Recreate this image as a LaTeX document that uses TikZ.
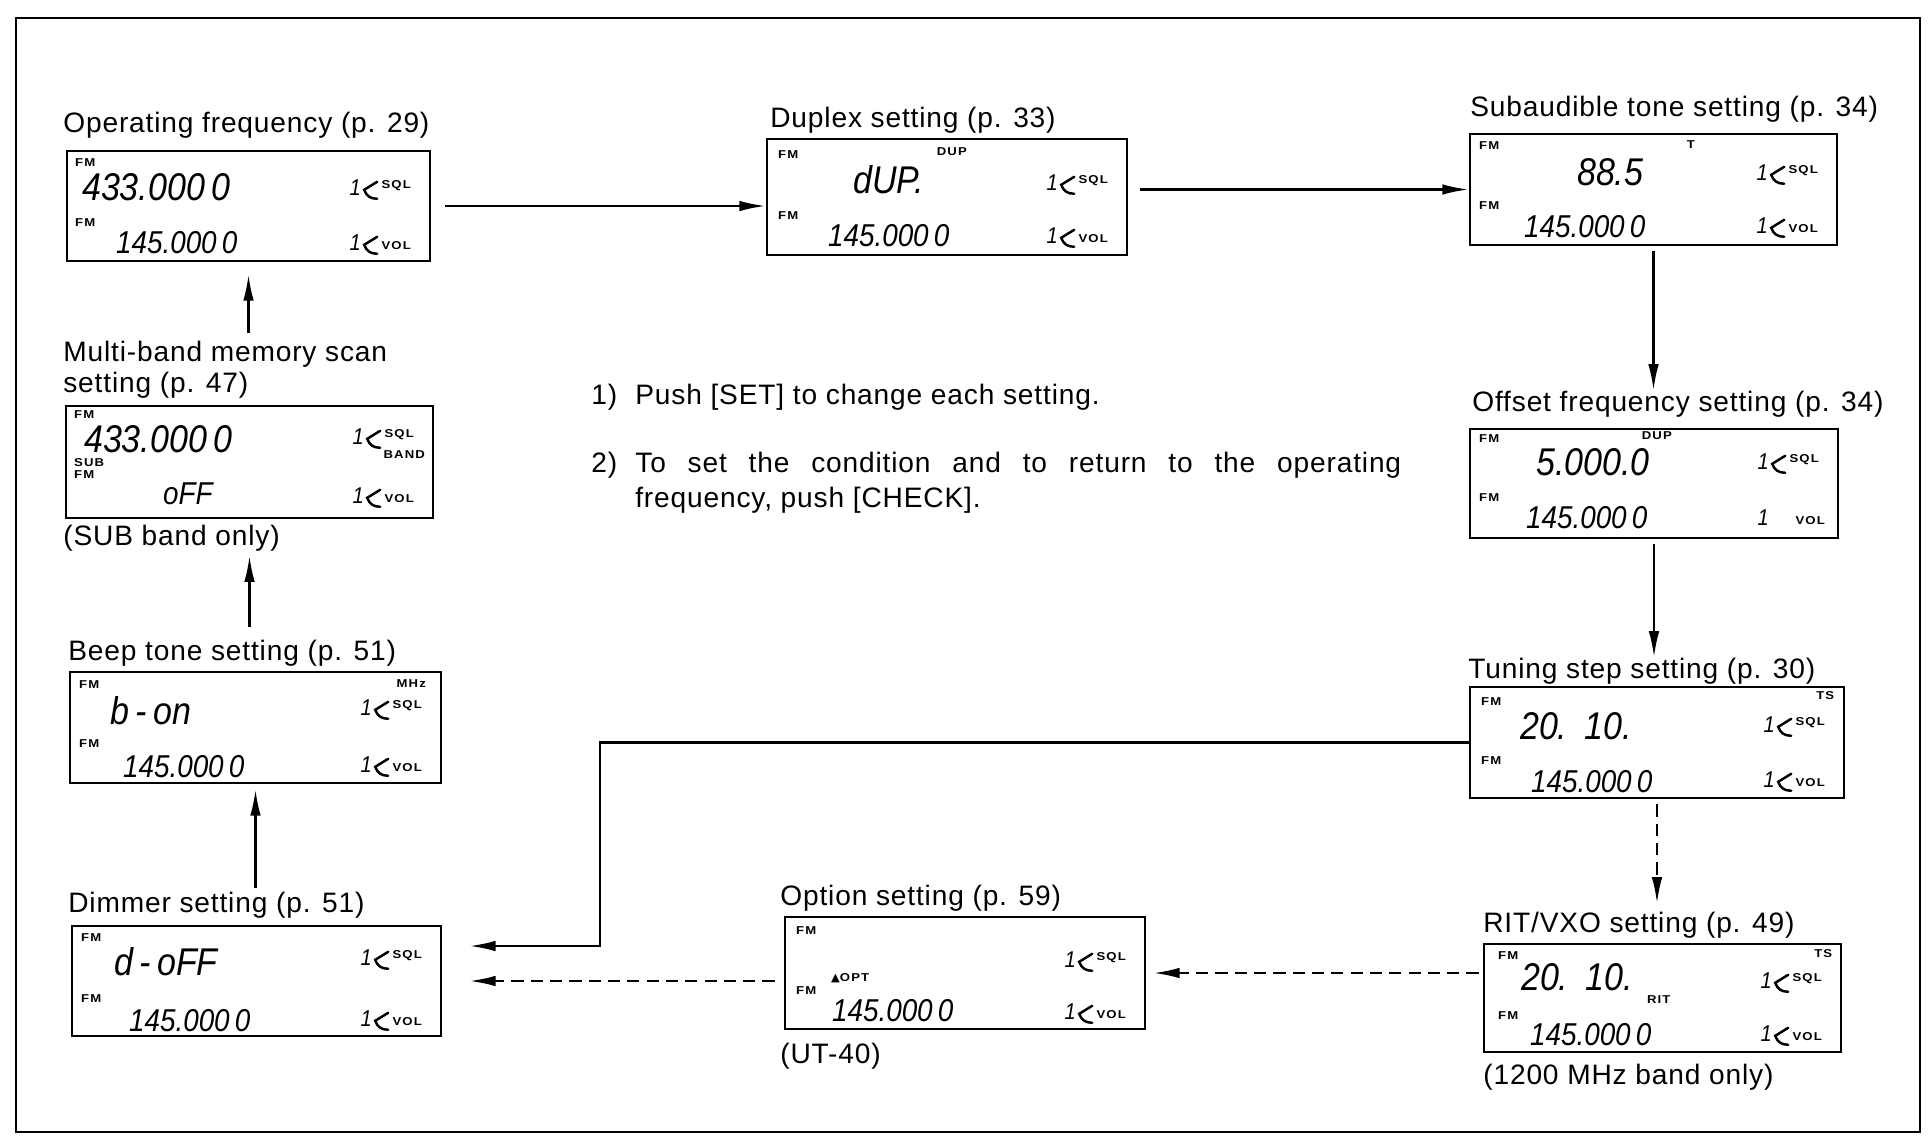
\documentclass[tikz,border=0pt]{standalone}
\usepackage{fontspec}
\setmainfont{Liberation Sans}[LetterSpace=3]
\newfontfamily\segfont{Liberation Sans}[FakeStretch=0.88]
\newfontfamily\tagfont{Liberation Sans}[FakeStretch=1.15,LetterSpace=10]
\newfontfamily\symfont{DejaVu Sans}
\usetikzlibrary{arrows.meta}

\tikzset{
  lcd/.style 2 args={draw, line width=1.4pt, inner sep=0pt,
    minimum width=#1*0.02cm, minimum height=#2*0.02cm},
  heading/.style={anchor=west, inner sep=0pt, font=\fontsize{16}{17.5}\selectfont},
  note/.style={anchor=base west, inner sep=0pt, font=\fontsize{16}{20}\selectfont},
  tag/.style={inner sep=0pt, font=\tagfont\bfseries\fontsize{6.5}{6.5}\selectfont},
  bigseg/.style={anchor=west, inner sep=0pt, font=\segfont\itshape\fontsize{22}{22}\selectfont},
  smallseg/.style={anchor=west, inner sep=0pt, font=\segfont\itshape\fontsize{18}{18}\selectfont},
  segone/.style={inner sep=0pt, font=\segfont\itshape\fontsize{13}{13}\selectfont},
  hook/.style={line width=1.4pt, line cap=round},
  conn/.style={line width=1.4pt, -{Latex[length=15pt,width=6pt]}},
  dashconn/.style={conn, dash pattern=on 7pt off 4pt},
}

% knob: segment digit 1, curved pointer, label
\newcommand\knob[4]{%
  \node[segone] (#1) at #2 {1};
  \draw[hook] ([shift={(22,-6)}]#1.center) -- ([shift={(9,2)}]#1.center)
    .. controls ([shift={(11,8)}]#1.center) and ([shift={(15,11)}]#1.center)
    .. ([shift={(22,11)}]#1.center);
  \node[tag, anchor=west] (#1-l) at ([shift={(26,#4)}]#1.center) {#3};
}

\begin{document}
\begin{tikzpicture}[x=0.02cm, y=-0.02cm]
        \useasboundingbox (0,0) rectangle (1931,1144);
        % ==== FRAME ====
        \draw[line width=1.2pt] (16,18) rectangle (1920,1132);

        % ==== DISPLAYS ====
        \node[lcd={363}{110}] (op) at (248.5,206) {};
        \node[lcd={360}{116}] (dup) at (947,197) {};
        \node[lcd={367}{111}] (tone) at (1653.5,189.5) {};
        \node[lcd={367}{112}] (scan) at (249.5,462) {};
        \node[lcd={368}{109}] (offs) at (1654,483.5) {};
        \node[lcd={371}{111}] (beep) at (255.5,727.5) {};
        \node[lcd={374}{111}] (step) at (1657,742.5) {};
        \node[lcd={369}{110}] (dim) at (256.5,981) {};
        \node[lcd={360}{112}] (opt) at (965,973) {};
        \node[lcd={357}{108}] (rit) at (1662.5,998) {};

        % ==== TITLES ====
        \node[heading] (op-t) at (63,125) {Operating frequency (p. 29)};
        \node[heading] (dup-t) at (770,120) {Duplex setting (p. 33)};
        \node[heading] (tone-t) at (1470,109) {Subaudible tone setting (p. 34)};
        \node[heading, align=left] (scan-t) at (63,370) {Multi-band memory scan\\setting (p. 47)};
        \node[heading] (scan-n) at (63,538) {(SUB band only)};
        \node[heading] (offs-t) at (1472,404) {Offset frequency setting (p. 34)};
        \node[heading] (beep-t) at (68,653) {Beep tone setting (p. 51)};
        \node[heading] (step-t) at (1468,671) {Tuning step setting (p. 30)};
        \node[heading] (dim-t) at (68,905) {Dimmer setting (p. 51)};
        \node[heading] (opt-t) at (780,898) {Option setting (p. 59)};
        \node[heading] (opt-n) at (780,1056) {(UT-40)};
        \node[heading] (rit-t) at (1483,925) {RIT/VXO setting (p. 49)};
        \node[heading] (rit-n) at (1483,1077) {(1200 MHz band only)};

        % ==== NOTES ====
        \node[note] (n1) at (591,404) {1)};
        \node[note] (n1-t) at (635,404) {Push [SET] to change each setting.};
        \node[note] (n2) at (591,472) {2)};
        \node[note, text width=15.32cm, align=justify] (n2-t) at (635,472)
            {To set the condition and to return to the operating\linebreak frequency, push [CHECK].};

        % ==== Operating frequency ====
        \node[tag, anchor=west] (op-fm1) at ([shift={(9,13)}]op.north west) {FM};
        \node[bigseg] (op-big) at ([shift={(16,37)}]op.north west) {433.000\,0};
        \knob{op-sql}{([shift={(-76,38)}]op.north east)}{SQL}{-2}
        \node[tag, anchor=west] (op-fm2) at ([shift={(9,73)}]op.north west) {FM};
        \node[smallseg] (op-small) at ([shift={(50,93)}]op.north west) {145.000\,0};
        \knob{op-vol}{([shift={(-76,93)}]op.north east)}{VOL}{3}

        % ==== Duplex ====
        \node[tag, anchor=west] (dup-fm1) at ([shift={(12,17)}]dup.north west) {FM};
        \node[tag] (dup-dup) at ([shift={(186,14)}]dup.north west) {DUP};
        \node[bigseg] (dup-big) at ([shift={(87,42)}]dup.north west) {dUP.};
        \knob{dup-sql}{([shift={(-76,45)}]dup.north east)}{SQL}{-2}
        \node[tag, anchor=west] (dup-fm2) at ([shift={(12,78)}]dup.north west) {FM};
        \node[smallseg] (dup-small) at ([shift={(62,98)}]dup.north west) {145.000\,0};
        \knob{dup-vol}{([shift={(-76,98)}]dup.north east)}{VOL}{3}

        % ==== Subaudible tone ====
        \node[tag, anchor=west] (tone-fm1) at ([shift={(10,13)}]tone.north west) {FM};
        \node[tag] (tone-tt) at ([shift={(222,12)}]tone.north west) {T};
        \node[bigseg] (tone-big) at ([shift={(108,39)}]tone.north west) {88.5};
        \knob{tone-sql}{([shift={(-76,40)}]tone.north east)}{SQL}{-2}
        \node[tag, anchor=west] (tone-fm2) at ([shift={(10,73)}]tone.north west) {FM};
        \node[smallseg] (tone-small) at ([shift={(55,94)}]tone.north west) {145.000\,0};
        \knob{tone-vol}{([shift={(-76,93)}]tone.north east)}{VOL}{3}

        % ==== Multi-band memory scan ====
        \node[tag, anchor=west] (scan-fm1) at ([shift={(9,10)}]scan.north west) {FM};
        \node[bigseg] (scan-big) at ([shift={(19,34)}]scan.north west) {433.000\,0};
        \knob{scan-sql}{([shift={(-76,32)}]scan.north east)}{SQL}{-2}
        \node[tag, anchor=east] (scan-band) at ([shift={(-9,50)}]scan.north east) {BAND};
        \node[tag, anchor=west] (scan-sub) at ([shift={(9,58)}]scan.north west) {SUB};
        \node[tag, anchor=west] (scan-fm2) at ([shift={(9,70)}]scan.north west) {FM};
        \node[smallseg] (scan-small) at ([shift={(98,89)}]scan.north west) {oFF};
        \knob{scan-vol}{([shift={(-76,91)}]scan.north east)}{VOL}{3}

        % ==== Offset frequency ====
        \node[tag, anchor=west] (offs-fm1) at ([shift={(10,11)}]offs.north west) {FM};
        \node[tag] (offs-dup) at ([shift={(188,8)}]offs.north west) {DUP};
        \node[bigseg] (offs-big) at ([shift={(67,34)}]offs.north west) {5.000.0};
        \knob{offs-sql}{([shift={(-76,34)}]offs.north east)}{SQL}{-2}
        \node[tag, anchor=west] (offs-fm2) at ([shift={(10,70)}]offs.north west) {FM};
        \node[smallseg] (offs-small) at ([shift={(57,90)}]offs.north west) {145.000\,0};
        \node[segone] (offs-vol) at ([shift={(-76,90)}]offs.north east) {1};
        \node[tag, anchor=west] (offs-vol-l) at ([shift={(32,3)}]offs-vol.center) {VOL};

        % ==== Beep tone ====
        \node[tag, anchor=west] (beep-fm1) at ([shift={(10,14)}]beep.north west) {FM};
        \node[bigseg] (beep-big) at ([shift={(41,40)}]beep.north west) {b\,-\,on};
        \knob{beep-sql}{([shift={(-76,37)}]beep.north east)}{SQL}{-2}
        \node[tag] (beep-mhz) at ([shift={(4,-22)}]beep-sql-l.center) {MHz};
        \node[tag, anchor=west] (beep-fm2) at ([shift={(10,73)}]beep.north west) {FM};
        \node[smallseg] (beep-small) at ([shift={(54,96)}]beep.north west) {145.000\,0};
        \knob{beep-vol}{([shift={(-76,94)}]beep.north east)}{VOL}{3}

        % ==== Tuning step ====
        \node[tag, anchor=west] (step-fm1) at ([shift={(12,16)}]step.north west) {FM};
        \node[tag] (step-ts) at ([shift={(-20,10)}]step.north east) {TS};
        \node[bigseg] (step-big) at ([shift={(51,40)}]step.north west) {20.\hspace{0.45em}10.};
        \knob{step-sql}{([shift={(-76,39)}]step.north east)}{SQL}{-2}
        \node[tag, anchor=west] (step-fm2) at ([shift={(12,75)}]step.north west) {FM};
        \node[smallseg] (step-small) at ([shift={(62,96)}]step.north west) {145.000\,0};
        \knob{step-vol}{([shift={(-76,94)}]step.north east)}{VOL}{3}

        % ==== Dimmer ====
        \node[tag, anchor=west] (dim-fm1) at ([shift={(10,13)}]dim.north west) {FM};
        \node[bigseg] (dim-big) at ([shift={(43,37)}]dim.north west) {d\,-\,oFF};
        \knob{dim-sql}{([shift={(-76,33)}]dim.north east)}{SQL}{-2}
        \node[tag, anchor=west] (dim-fm2) at ([shift={(10,74)}]dim.north west) {FM};
        \node[smallseg] (dim-small) at ([shift={(58,96)}]dim.north west) {145.000\,0};
        \knob{dim-vol}{([shift={(-76,94)}]dim.north east)}{VOL}{3}

        % ==== Option ====
        \node[tag, anchor=west] (opt-fm1) at ([shift={(12,15)}]opt.north west) {FM};
        \knob{opt-sql}{([shift={(-76,44)}]opt.north east)}{SQL}{-2}
        \node[tag, anchor=west] (opt-opt) at ([shift={(47,62)}]opt.north west) {{\symfont\bfseries ▲}OPT};
        \node[tag, anchor=west] (opt-fm2) at ([shift={(12,75)}]opt.north west) {FM};
        \node[smallseg] (opt-small) at ([shift={(48,95)}]opt.north west) {145.000\,0};
        \knob{opt-vol}{([shift={(-76,96)}]opt.north east)}{VOL}{3}

        % ==== RIT/VXO ====
        \node[tag, anchor=west] (rit-fm1) at ([shift={(15,13)}]rit.north west) {FM};
        \node[tag] (rit-ts) at ([shift={(-19,11)}]rit.north east) {TS};
        \node[bigseg] (rit-big) at ([shift={(38,34)}]rit.north west) {20.\hspace{0.45em}10.};
        \node[tag] (rit-rit) at ([shift={(176,57)}]rit.north west) {RIT};
        \knob{rit-sql}{([shift={(-76,38)}]rit.north east)}{SQL}{-2}
        \node[tag, anchor=west] (rit-fm2) at ([shift={(15,73)}]rit.north west) {FM};
        \node[smallseg] (rit-small) at ([shift={(47,92)}]rit.north west) {145.000\,0};
        \knob{rit-vol}{([shift={(-76,91)}]rit.north east)}{VOL}{3}

        % ==== CONNECTORS ====
        \coordinate (bend) at (600,946);
        \draw[conn, shorten <=0.28cm] (op.east) -- (op.east -| dup.west);
        \draw[conn, shorten <=0.24cm] (tone.west -| dup.east) -- (tone.west);
        \draw[conn, shorten <=0.1cm] (tone.south) -- (tone.south |- offs-t.north);
        \draw[conn, shorten <=0.1cm] (offs.south) -- (offs.south |- step-t.north);
        \draw[dashconn, shorten <=0.1cm, shorten >=0.16cm] (step.south) -- (step.south |- rit-t.north);
        \draw[dashconn, shorten <=0.08cm, shorten >=0.14cm] (opt.east -| rit.west) -- (opt.east);
        \draw[dashconn, shorten <=0.18cm, shorten >=0.54cm] (dim.east -| opt.west) -- (dim.east);
        \draw[conn, shorten >=0.54cm] (step.west) -| (bend) |- ([yshift=0.7cm]dim.east);
        \draw[conn, shorten <=0.08cm, shorten >=0.1cm] (beep.south |- dim-t.north) -- (beep.south);
        \draw[conn, shorten <=0.26cm, shorten >=0.08cm] (scan.south |- beep-t.north) -- (scan.south |- scan-n.south);
        \draw[conn, shorten <=0.16cm, shorten >=0.24cm] (op.south |- scan-t.north) -- (op.south);
\end{tikzpicture}
\end{document}
